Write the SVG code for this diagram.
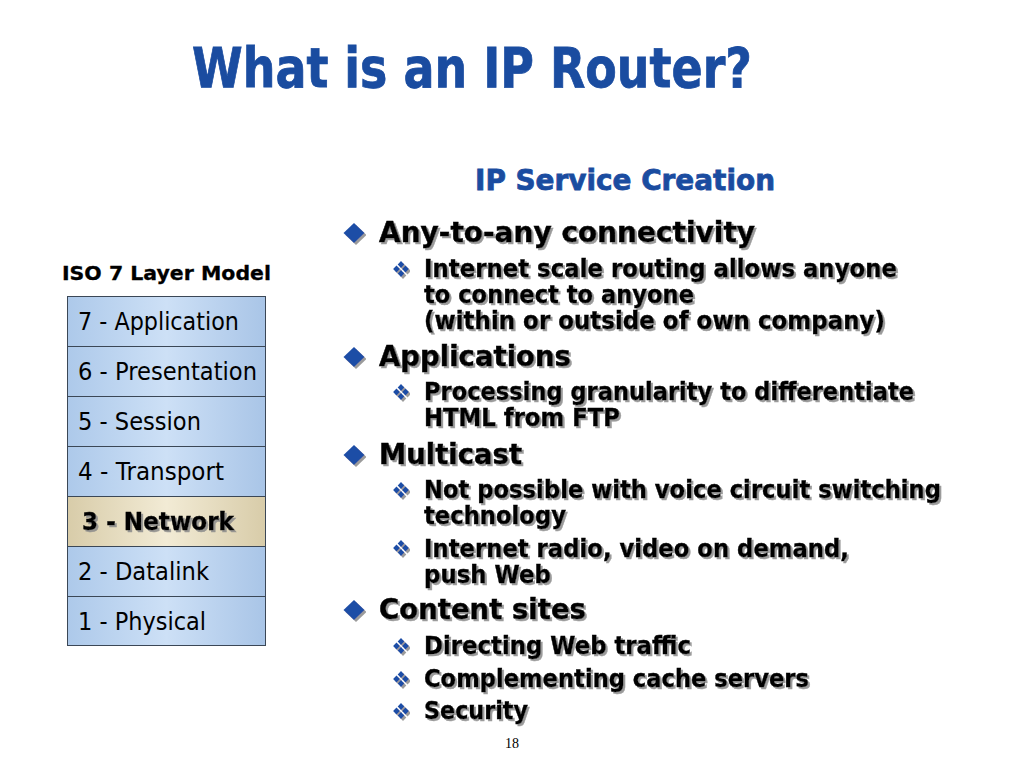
<svg xmlns="http://www.w3.org/2000/svg" width="1024" height="768" viewBox="0 0 1024 768">
<defs>
<linearGradient id="gBlue" x1="0" y1="0" x2="1" y2="0">
<stop offset="0" stop-color="#adc9ea"/>
<stop offset="0.5" stop-color="#cde0f6"/>
<stop offset="1" stop-color="#a9c5e7"/>
</linearGradient>
<linearGradient id="gBeige" x1="0" y1="0" x2="1" y2="0">
<stop offset="0" stop-color="#d8cca9"/>
<stop offset="0.5" stop-color="#f2ebd5"/>
<stop offset="1" stop-color="#d8cca9"/>
</linearGradient>
<filter id="sh" x="-5%" y="-20%" width="110%" height="150%">
<feDropShadow dx="2" dy="2" stdDeviation="0.7" flood-color="#8a8a8a" flood-opacity="0.85"/>
</filter>
<g id="mb"><path d="M0,-10 L10.5,0 L0,10 L-10.5,0 Z"/></g>
<g id="sb">
<path d="M0,-8 L3.3,-4.5 L0,-1 L-3.3,-4.5 Z"/>
<path d="M-4.5,-3.4 L-1.1,0 L-4.5,3.4 L-7.9,0 Z"/>
<path d="M4.5,-3.4 L7.9,0 L4.5,3.4 L1.1,0 Z"/>
<path d="M0,1 L3.3,4.5 L0,8 L-3.3,4.5 Z"/>
</g>
</defs>
<style>
.t{font-family:"DejaVu Sans","Verdana",sans-serif;font-weight:bold;fill:#1a4ca0;stroke:#1a4ca0;stroke-width:0.8}
.lay{font-family:"DejaVu Sans","Verdana",sans-serif;font-size:24px;fill:#000}
.box{fill:url(#gBlue);stroke:#3b4756;stroke-width:1}
.main{font-family:"DejaVu Sans","Verdana",sans-serif;font-weight:bold;font-size:28px;fill:#000;stroke:#000;stroke-width:0.5;filter:url(#sh)}
.sub{font-family:"DejaVu Sans","Verdana",sans-serif;font-weight:bold;font-size:24px;fill:#000;stroke:#000;stroke-width:0.4;filter:url(#sh)}
.bul{fill:#1e4ea6;filter:url(#sh)}
</style>
<rect width="1024" height="768" fill="#ffffff"/>
<g id="title">
<text class="t" x="192" y="87" font-size="55" textLength="560" lengthAdjust="spacingAndGlyphs">What is an IP Router?</text>
</g>
<g id="subtitle">
<text class="t" x="475" y="190" font-size="29" stroke-width="0.4" textLength="300" lengthAdjust="spacingAndGlyphs">IP Service Creation</text>
</g>
<g id="iso-label">
<text x="62" y="280" font-family="DejaVu Sans, Verdana, sans-serif" font-weight="bold" font-size="20" fill="#000" stroke="#000" stroke-width="0.3" textLength="209" lengthAdjust="spacingAndGlyphs">ISO 7 Layer Model</text>
</g>
<g id="layers">
<g id="layer7"><rect class="box" x="67.5" y="296.5" width="198" height="50"/><text class="lay" x="78" y="330" textLength="161" lengthAdjust="spacingAndGlyphs">7 - Application</text></g>
<g id="layer6"><rect class="box" x="67.5" y="346.5" width="198" height="50"/><text class="lay" x="78" y="380" textLength="179" lengthAdjust="spacingAndGlyphs">6 - Presentation</text></g>
<g id="layer5"><rect class="box" x="67.5" y="396.5" width="198" height="50"/><text class="lay" x="78" y="430" textLength="123" lengthAdjust="spacingAndGlyphs">5 - Session</text></g>
<g id="layer4"><rect class="box" x="67.5" y="446.5" width="198" height="50"/><text class="lay" x="78" y="480" textLength="146" lengthAdjust="spacingAndGlyphs">4 - Transport</text></g>
<g id="layer3"><rect x="67.5" y="496.5" width="198" height="50" fill="url(#gBeige)" stroke="#3b4756" stroke-width="1"/><text class="lay" x="82" y="530" font-weight="bold" stroke="#000" stroke-width="0.4" filter="url(#sh)" textLength="152" lengthAdjust="spacingAndGlyphs">3 - Network</text></g>
<g id="layer2"><rect class="box" x="67.5" y="546.5" width="198" height="50"/><text class="lay" x="78" y="580" textLength="131" lengthAdjust="spacingAndGlyphs">2 - Datalink</text></g>
<g id="layer1"><rect class="box" x="67.5" y="596.5" width="198" height="49"/><text class="lay" x="78" y="630" textLength="128" lengthAdjust="spacingAndGlyphs">1 - Physical</text></g>
</g>
<g id="bullets">
<use href="#mb" class="bul" x="354" y="233"/>
<text class="main" x="379" y="242" textLength="376" lengthAdjust="spacingAndGlyphs">Any-to-any connectivity</text>
<use href="#sb" class="bul" x="401" y="269"/>
<text class="sub" x="424" y="277" textLength="473" lengthAdjust="spacingAndGlyphs">Internet scale routing allows anyone</text>
<text class="sub" x="424" y="303" textLength="270" lengthAdjust="spacingAndGlyphs">to connect to anyone</text>
<text class="sub" x="424" y="329" textLength="461" lengthAdjust="spacingAndGlyphs">(within or outside of own company)</text>

<use href="#mb" class="bul" x="354" y="357"/>
<text class="main" x="379" y="366" textLength="192" lengthAdjust="spacingAndGlyphs">Applications</text>
<use href="#sb" class="bul" x="401" y="392"/>
<text class="sub" x="424" y="400" textLength="490" lengthAdjust="spacingAndGlyphs">Processing granularity to differentiate</text>
<text class="sub" x="424" y="426" textLength="196" lengthAdjust="spacingAndGlyphs">HTML from FTP</text>

<use href="#mb" class="bul" x="354" y="455"/>
<text class="main" x="379" y="464" textLength="143" lengthAdjust="spacingAndGlyphs">Multicast</text>
<use href="#sb" class="bul" x="401" y="490"/>
<text class="sub" x="424" y="498" textLength="517" lengthAdjust="spacingAndGlyphs">Not possible with voice circuit switching</text>
<text class="sub" x="424" y="524" textLength="142" lengthAdjust="spacingAndGlyphs">technology</text>
<use href="#sb" class="bul" x="401" y="548"/>
<text class="sub" x="424" y="557" textLength="425" lengthAdjust="spacingAndGlyphs">Internet radio, video on demand,</text>
<text class="sub" x="424" y="583" textLength="127" lengthAdjust="spacingAndGlyphs">push Web</text>

<use href="#mb" class="bul" x="354" y="610"/>
<text class="main" x="379" y="619" textLength="207" lengthAdjust="spacingAndGlyphs">Content sites</text>
<use href="#sb" class="bul" x="401" y="646"/>
<text class="sub" x="424" y="654" textLength="267" lengthAdjust="spacingAndGlyphs">Directing Web traffic</text>
<use href="#sb" class="bul" x="401" y="679"/>
<text class="sub" x="424" y="687" textLength="385" lengthAdjust="spacingAndGlyphs">Complementing cache servers</text>
<use href="#sb" class="bul" x="401" y="711"/>
<text class="sub" x="424" y="719" textLength="104" lengthAdjust="spacingAndGlyphs">Security</text>
</g>
<g id="page">
<text x="512" y="748" font-family="Liberation Serif, serif" font-size="14" fill="#000" text-anchor="middle">18</text>
</g>
</svg>
